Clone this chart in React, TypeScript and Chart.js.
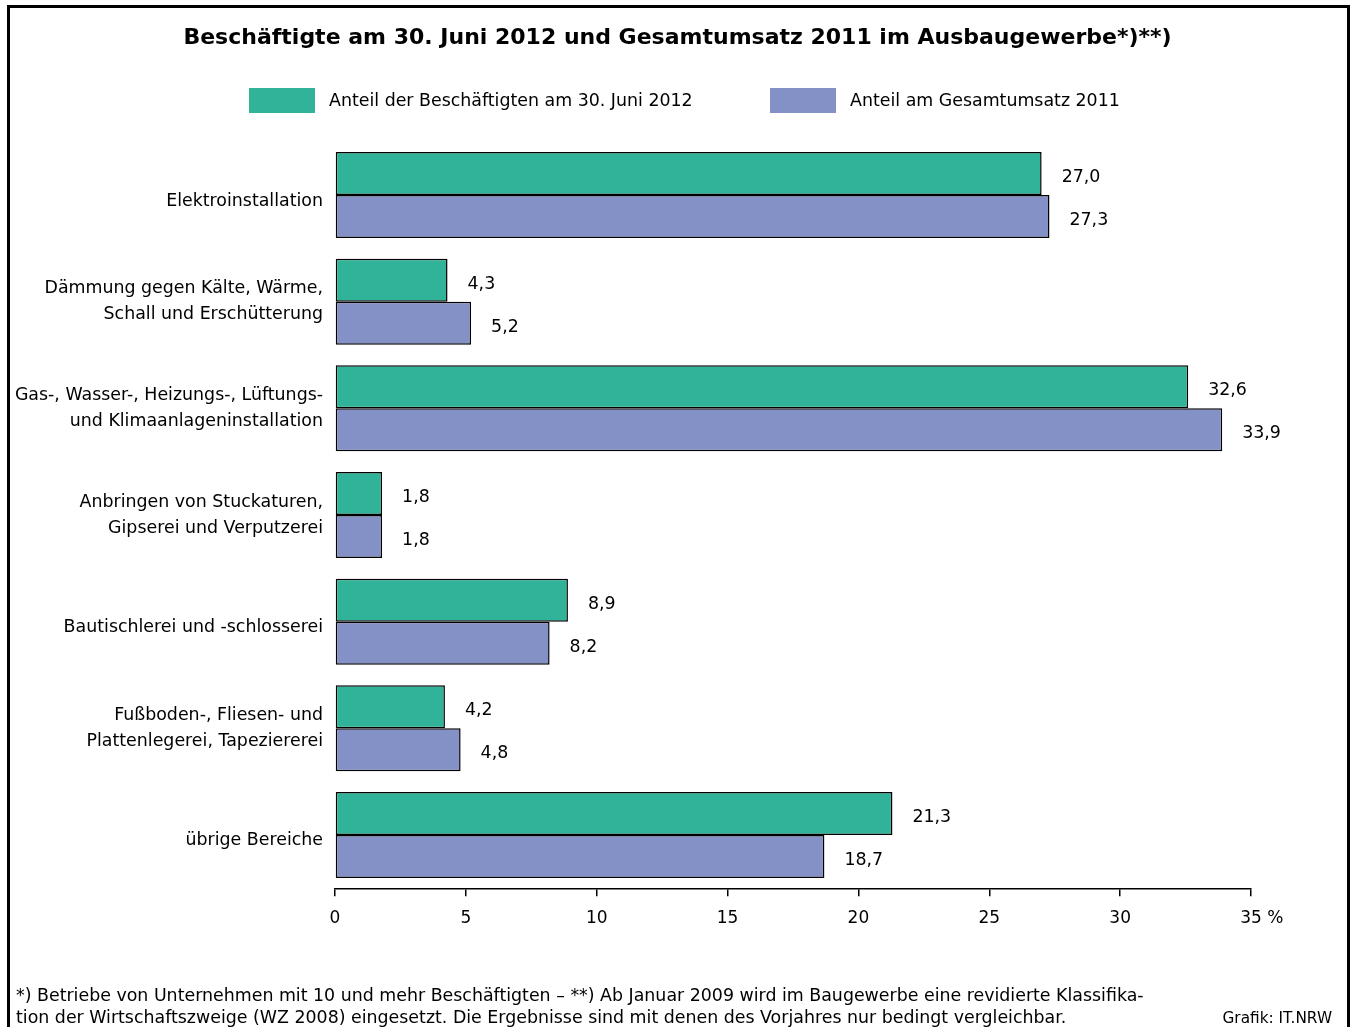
import React, { useEffect, useRef, useState } from "react";
import { Chart, registerables } from "chart.js";

Chart.register(...registerables);

const TITLE = "Beschäftigte am 30. Juni 2012 und Gesamtumsatz 2011 im Ausbaugewerbe*)**)";
const CATEGORIES: string[][] = [
  ["Elektroinstallation"],
  ["Dämmung gegen Kälte, Wärme,", "Schall und Erschütterung"],
  ["Gas-, Wasser-, Heizungs-, Lüftungs-", "und Klimaanlageninstallation"],
  ["Anbringen von Stuckaturen,", "Gipserei und Verputzerei"],
  ["Bautischlerei und -schlosserei"],
  ["Fußboden-, Fliesen- und", "Plattenlegerei, Tapeziererei"],
  ["übrige Bereiche"],
];
const SERIES_NAMES = ["Anteil der Beschäftigten am 30. Juni 2012", "Anteil am Gesamtumsatz 2011"];
const EMPLOYEES = [27.0, 4.3, 32.6, 1.8, 8.9, 4.2, 21.3];
const TURNOVER = [27.3, 5.2, 33.9, 1.8, 8.2, 4.8, 18.7];
const X_MIN = 0;
const X_MAX = 35;
const X_STEP = 5;
const UNIT = "%";
const FOOTNOTE_LINES = [
  "*) Betriebe von Unternehmen mit 10 und mehr Beschäftigten – **) Ab Januar 2009 wird im Baugewerbe eine revidierte Klassifika-",
  "tion der Wirtschaftszweige (WZ 2008) eingesetzt. Die Ergebnisse sind mit denen des Vorjahres nur bedingt vergleichbar.",
];
const SOURCE = "Grafik: IT.NRW";

const GREEN = "#31B39A";
const PURPLE = "#8391C7";
const FONT = "'DejaVu Sans', 'Open Sans', sans-serif";
const BODY = 17.4;
const W = 1354;
const H = 1027;

const fmt = (v: number) => v.toFixed(1).replace(".", ",");

const decorPlugin = {
  id: "decor",
  beforeDraw(chart: any) {
    const ctx = chart.ctx as CanvasRenderingContext2D;
    ctx.save();
    ctx.fillStyle = "#fff";
    ctx.fillRect(0, 0, W, H);
    ctx.restore();
  },
  afterDraw(chart: any) {
    const ctx = chart.ctx as CanvasRenderingContext2D;
    ctx.save();
    // frame
    ctx.strokeStyle = "#000";
    ctx.lineWidth = 3;
    ctx.beginPath();
    ctx.moveTo(8.5, H + 5);
    ctx.lineTo(8.5, 6.5);
    ctx.lineTo(1348.5, 6.5);
    ctx.lineTo(1348.5, H + 5);
    ctx.stroke();

    ctx.fillStyle = "#000";
    // title
    ctx.font = `bold 22px ${FONT}`;
    ctx.textAlign = "center";
    ctx.textBaseline = "alphabetic";
    ctx.fillText(TITLE, 677.5, 44);
    // legend
    const legendX = [249, 770];
    ctx.font = `${BODY}px ${FONT}`;
    ctx.textAlign = "left";
    chart.data.datasets.forEach((ds: any, i: number) => {
      ctx.fillStyle = ds.backgroundColor;
      ctx.fillRect(legendX[i], 88, 66, 25);
      ctx.fillStyle = "#000";
      ctx.fillText(ds.label, legendX[i] + 80, 106);
    });
    // y category labels
    const ys = chart.scales.y;
    ctx.textAlign = "right";
    ctx.textBaseline = "middle";
    const labels = chart.data.labels as string[][];
    labels.forEach((lines, i) => {
      const y = ys.getPixelForTick(i);
      const x = ys.right - 12;
      if (lines.length === 1) {
        ctx.fillText(lines[0], x, y + 6);
      } else {
        ctx.fillText(lines[0], x, y - 13);
        ctx.fillText(lines[1], x, y + 13);
      }
    });
    // unit after last x tick
    const xs = chart.scales.x;
    ctx.font = `17px ${FONT}`;
    ctx.textAlign = "left";
    ctx.textBaseline = "alphabetic";
    const lastPx = xs.getPixelForValue(X_MAX);
    const w = ctx.measureText(String(X_MAX)).width;
    ctx.fillText(" " + UNIT, lastPx + w / 2, xs.top + 35);
    // footnotes
    ctx.font = `${BODY}px ${FONT}`;
    ctx.fillText(FOOTNOTE_LINES[0], 16, 1001);
    ctx.fillText(FOOTNOTE_LINES[1], 16, 1023);
    ctx.font = `15.3px ${FONT}`;
    ctx.textAlign = "right";
    ctx.fillText(SOURCE, 1332, 1023);
    ctx.restore();
  },
  afterDatasetsDraw(chart: any) {
    const ctx = chart.ctx as CanvasRenderingContext2D;
    ctx.save();
    ctx.font = `${BODY}px ${FONT}`;
    ctx.fillStyle = "#000";
    ctx.textAlign = "left";
    ctx.textBaseline = "middle";
    chart.data.datasets.forEach((ds: any, i: number) => {
      const meta = chart.getDatasetMeta(i);
      meta.data.forEach((el: any, j: number) => {
        ctx.fillText(fmt(ds.data[j]), el.x + 20, el.y + 4);
      });
    });
    ctx.restore();
  },
};

export default function App() {
  const ref = useRef<HTMLCanvasElement | null>(null);
  const [err, setErr] = useState("");
  useEffect(() => {
    if (!ref.current) return;
    let chart: any = null;
    try {
      chart = new Chart(ref.current, {
        type: "bar",
        data: {
          labels: CATEGORIES,
          datasets: [
            {
              label: SERIES_NAMES[0],
              data: EMPLOYEES,
              backgroundColor: GREEN,
              borderColor: "#000",
              borderWidth: 1.5,
              borderSkipped: false,
              categoryPercentage: 0.806,
              barPercentage: 1,
            },
            {
              label: SERIES_NAMES[1],
              data: TURNOVER,
              backgroundColor: PURPLE,
              borderColor: "#000",
              borderWidth: 1.5,
              borderSkipped: false,
              categoryPercentage: 0.806,
              barPercentage: 1,
            },
          ],
        },
        options: {
          indexAxis: "y",
          responsive: false,
          animation: false,
          devicePixelRatio: 1,
          layout: { padding: { top: 141.7, right: 103, bottom: 78.7, left: 0 } },
          plugins: {
            legend: { display: false },
            title: { display: false },
            tooltip: { enabled: false },
          },
          scales: {
            x: {
              type: "linear",
              min: X_MIN,
              max: X_MAX,
              afterFit: (s: any) => {
                s.height = 60;
              },
              ticks: {
                stepSize: X_STEP,
                color: "#000",
                font: { family: FONT, size: 17 },
                padding: 12,
                maxRotation: 0,
              },
              grid: {
                drawOnChartArea: false,
                drawTicks: true,
                tickLength: 8,
                color: "#000",
                lineWidth: 1.5,
              },
              border: { display: true, color: "#000", width: 1.5 },
            },
            y: {
              afterFit: (s: any) => {
                s.width = 335;
              },
              ticks: { display: false },
              grid: { display: false, drawTicks: false },
              border: { display: false },
            },
          },
        },
        plugins: [decorPlugin],
      } as any);
    } catch (e: any) {
      setErr(String(e && e.stack ? e.stack : e));
    }
    return () => {
      if (chart) chart.destroy();
    };
  }, []);

  return (
    <div>
      <canvas
        ref={ref}
        width={W}
        height={H}
        style={{ position: "fixed", left: 0, top: 0, width: W, height: H, display: "block" }}
      />
      {err ? <pre style={{ position: "fixed", top: 0, left: 0, color: "red" }}>{err}</pre> : null}
    </div>
  );
}
